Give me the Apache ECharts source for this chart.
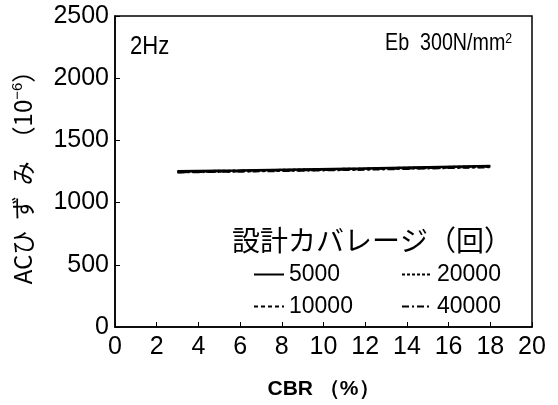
<!DOCTYPE html>
<html><head><meta charset="utf-8">
<script src="https://cdn.jsdelivr.net/npm/echarts@6/dist/echarts.min.js"></script>
<style>html,body{margin:0;padding:0;background:#fff}#c{width:558px;height:405px}</style>
</head><body><div id="c"></div>
<script>
var cbr = [3, 6, 9, 12, 15, 18];
var s5000 = [1252, 1259, 1267, 1275, 1285, 1295];
var s10000 = [1246, 1253, 1261, 1270, 1279, 1289];
var s20000 = [1249, 1256, 1264, 1272, 1282, 1292];
var s40000 = [1244, 1251, 1258, 1266, 1276, 1286];
var xTicks = [0, 2, 4, 6, 8, 10, 12, 14, 16, 18, 20];
var yTicks = [0, 500, 1000, 1500, 2000, 2500];
var seriesNames = ['5000', '10000', '20000', '40000'];
var legendTitle = '設計カバレージ（回）';

var FONT = "'Liberation Sans', Arial, sans-serif";
function pairs(v){ return cbr.map(function(x,i){ return [x, v[i]]; }); }
var styles = [
  {type:'solid', width:2.5},
  {type:[4,3], width:2.5},
  {type:[3,2], width:2.5},
  {type:[7,3,2,3], width:2.5}
];
var vals = [s5000, s10000, s20000, s40000];
var legTxt = {fontSize:23, color:'#000', fontFamily:FONT};
var chart = echarts.init(document.getElementById('c'));
chart.setOption({
  animation:false,
  backgroundColor:'#fff',
  grid:{left:115, right:26, top:16, bottom:75, show:true, borderColor:'#000', borderWidth:1.5},
  xAxis:{type:'value', min:0, max:20, interval:2,
    axisLine:{lineStyle:{color:'#000', width:1.5}},
    axisTick:{inside:true, length:5, lineStyle:{color:'#000'}},
    splitLine:{show:false},
    axisLabel:{color:'#000', fontSize:25, fontFamily:FONT, margin:8,
      formatter:function(v){ return xTicks.indexOf(v)>=0 ? String(v) : ''; }},
    name:'CBR （%）', nameLocation:'middle', nameGap:52,
    nameTextStyle:{color:'#000', fontSize:21, fontWeight:'bold', fontFamily:FONT}
  },
  yAxis:{type:'value', min:0, max:2500, interval:500,
    axisLine:{lineStyle:{color:'#000', width:1.5}},
    axisTick:{inside:true, length:5, lineStyle:{color:'#000'}},
    splitLine:{show:false},
    axisLabel:{color:'#000', fontSize:25, fontFamily:FONT, margin:6,
      formatter:function(v){ return yTicks.indexOf(v)>=0 ? String(v) : ''; }},
    name:'{a|ACひ  ず  み  （10}{s|−6}{a|）}', nameLocation:'middle', nameGap:80, nameRotate:90,
    nameTextStyle:{color:'#000', rich:{
      a:{fontSize:24, fontFamily:"'Noto Sans CJK JP', " + FONT, color:'#000'},
      s:{fontSize:15, fontFamily:FONT, color:'#000', verticalAlign:'top', padding:[0,0,10,0]}
    }}
  },
  legend:[
    {orient:'vertical', left:248, top:258, itemGap:9, itemWidth:30, itemHeight:25,
     data:['5000','10000'], itemStyle:{opacity:0}, textStyle:legTxt},
    {orient:'vertical', left:396, top:258, itemGap:9, itemWidth:30, itemHeight:25,
     data:['20000','40000'], itemStyle:{opacity:0}, textStyle:legTxt}
  ],
  graphic:[
    {type:'text', left:130, top:34, scaleX:0.85, style:{text:'2Hz', fontSize:26, fontFamily:FONT, fill:'#000'}},
    {type:'text', x:385, y:31, scaleX:0.82, style:{text:'Eb  300N/mm{s|2}', fontSize:24, fontFamily:FONT, fill:'#000',
      rich:{s:{fontSize:15, fontFamily:FONT, fill:'#000', verticalAlign:'top', padding:[0,0,8,0]}}}},
    {type:'text', left:232, top:226, style:{text:legendTitle, fontSize:28, fontFamily:"'Noto Sans CJK JP', sans-serif", fill:'#000'}}
  ],
  series: seriesNames.map(function(n,i){
    return {name:n, type:'line', data:pairs(vals[i]), symbol:'none', showSymbol:false,
      lineStyle:{color:'#000', width:styles[i].width, type:styles[i].type},
      itemStyle:{color:'#000'}};
  })
});
</script></body></html>
